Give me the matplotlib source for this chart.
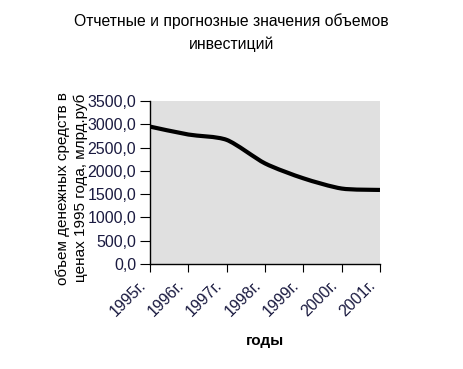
import matplotlib
matplotlib.use("Agg")
import matplotlib.pyplot as plt
from matplotlib.path import Path
from matplotlib.patches import PathPatch
import numpy as np

plt.rcParams['font.family'] = ['Liberation Sans', 'DejaVu Sans']

years = ["1995г.", "1996г.", "1997г.", "1998г.", "1999г.", "2000г.", "2001г."]
values = [2950.0, 2780.0, 2665.0, 2160.0, 1840.0, 1620.0, 1590.0]
title = "Отчетные и прогнозные значения объемов\nинвестиций"
ylabel = "объем денежных средств в\nценах 1995 года, млрд.руб"
xlabel = "годы"

fig = plt.figure(figsize=(4.63, 3.69), dpi=100)
ax = fig.add_axes([0.324, 0.2846, 0.4967, 0.4417])
ax.set_facecolor('#e0e0e0')

x = np.arange(len(years), dtype=float)
y = np.array(values)

# smoothed line (Bezier through the data points)
k = 1 / 8
verts = [(x[0], y[0])]
codes = [Path.MOVETO]
n = len(x)
for i in range(n - 1):
    p0 = (x[i - 1], y[i - 1]) if i > 0 else (x[i], y[i])
    p1 = (x[i], y[i])
    p2 = (x[i + 1], y[i + 1])
    p3 = (x[i + 2], y[i + 2]) if i + 2 < n else p2
    c1 = (p1[0] + (p2[0] - p0[0]) * k, p1[1] + (p2[1] - p0[1]) * k)
    c2 = (p2[0] - (p3[0] - p1[0]) * k, p2[1] - (p3[1] - p1[1]) * k)
    verts += [c1, c2, p2]
    codes += [Path.CURVE4] * 3
ax.add_patch(PathPatch(Path(verts, codes), facecolor='none', edgecolor='black',
                       lw=3, capstyle='butt', zorder=3))

ax.set_xlim(0, n - 1)
ax.set_ylim(0, 3500)
ax.set_yticks(np.arange(0, 3501, 500))
ax.set_yticklabels([f"{v:.1f}".replace('.', ',') for v in np.arange(0, 3501, 500)])
ax.set_xticks(x)
ax.set_xticklabels(years, rotation=45, ha='right', rotation_mode='anchor')

for s in ['top', 'right']:
    ax.spines[s].set_visible(False)
for s in ['left', 'bottom']:
    ax.spines[s].set_color('black')
    ax.spines[s].set_linewidth(1)

ax.tick_params(axis='y', direction='out', length=7, labelsize=11.5, pad=3, colors='black')
ax.tick_params(axis='x', direction='out', length=6, labelsize=11.5, pad=4, colors='black')
for lbl in ax.get_yticklabels():
    lbl.set_color('#1a1a40')
for lbl in ax.get_xticklabels():
    lbl.set_color('#1a1a40')
    lbl.set_transform(lbl.get_transform() + matplotlib.transforms.ScaledTranslation(-12 / 100, 0, fig.dpi_scale_trans))

fig.text(0.5, 0.912, title, ha='center', va='center', fontsize=11.3, linespacing=1.55)
fig.text(0.155, 0.49, ylabel, ha='center', va='center', rotation=90, fontsize=11, linespacing=1.3)
fig.text(0.572, 0.075, xlabel, ha='center', va='center', fontsize=11, fontweight='bold')

fig.savefig('out.png', dpi=100)
